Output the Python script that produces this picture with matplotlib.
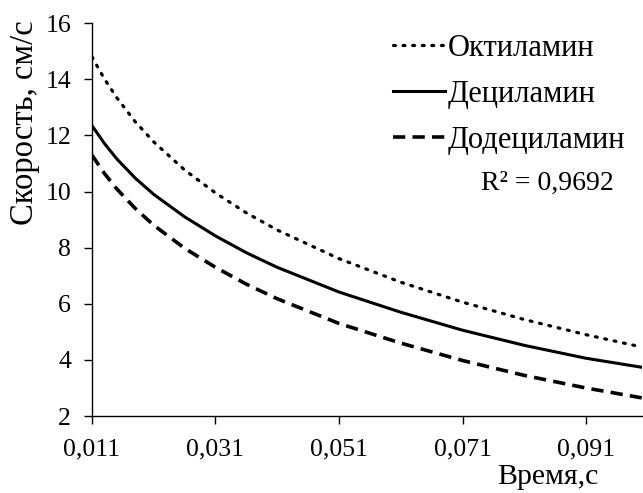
import matplotlib
matplotlib.use('Agg')
import matplotlib.pyplot as plt
from matplotlib.ticker import FixedLocator, FuncFormatter

plt.rcParams['font.family'] = ['Liberation Serif', 'DejaVu Serif']

# время, с
t = [0.011, 0.013, 0.015, 0.018, 0.021, 0.026, 0.031, 0.036, 0.041,
     0.051, 0.061, 0.071, 0.081, 0.091, 0.100]

# скорость, см/с
v_octyl = [14.8, 14.02, 13.35, 12.49, 11.77, 10.77, 9.95, 9.24, 8.63,
           7.61, 6.77, 6.06, 5.44, 4.9, 4.46]
v_decyl = [12.35, 11.72, 11.17, 10.48, 9.9, 9.1, 8.42, 7.82, 7.3,
           6.42, 5.7, 5.06, 4.52, 4.06, 3.74]
v_dodecyl = [11.3, 10.65, 10.1, 9.4, 8.8, 7.98, 7.3, 6.7, 6.18,
             5.3, 4.6, 3.98, 3.45, 3.0, 2.65]

names = ['Октиламин', 'Дециламин', 'Додециламин']
r2_text = 'R² = 0,9692'

x_ticks = [0.011, 0.031, 0.051, 0.071, 0.091]
y_ticks = [2, 4, 6, 8, 10, 12, 14, 16]

fig = plt.figure(figsize=(6.43, 4.93), dpi=100)
ax = fig.add_axes([0.143, 0.156, 0.855, 0.797])

ax.plot(t, v_octyl, color='black', lw=2.3, linestyle=(0, (0.6, 2.4)),
        dash_capstyle='round', label=names[0])
ax.plot(t, v_decyl, color='black', lw=2.2, label=names[1])
ax.plot(t, v_dodecyl, color='black', lw=2.6, linestyle=(0, (3.4, 2.0)),
        label=names[2])

ax.set_xlim(0.011, 0.1)
ax.set_ylim(2, 16)
ax.xaxis.set_major_locator(FixedLocator(x_ticks))
ax.yaxis.set_major_locator(FixedLocator(y_ticks))
ax.xaxis.set_major_formatter(FuncFormatter(lambda v, p: f'{v:.3f}'.replace('.', ',')))

for s in ['top', 'right']:
    ax.spines[s].set_visible(False)
for s in ['left', 'bottom']:
    ax.spines[s].set_linewidth(1.0)
ax.tick_params(direction='out', length=6, width=1.0, labelsize=18.5)
ax.tick_params(axis='x', pad=10)
ax.tick_params(axis='y', pad=9)

fig.text(25 / 643, 1 - 123 / 493, 'Скорость, см/с', fontsize=23.5,
         rotation=90, ha='center', va='center')
fig.text(598 / 643, 1 - 477 / 493, 'Время,с', fontsize=21.5,
         ha='right', va='center')

leg = ax.legend(loc='upper left', bbox_to_anchor=(393 / 643, 1 - 34 / 493),
                bbox_transform=fig.transFigure, frameon=False,
                fontsize=22, handlelength=1.7, handletextpad=0.08,
                labelspacing=0.55, borderpad=0, borderaxespad=0)
fig.text(547 / 643, 1 - 183 / 493, r2_text, fontsize=20,
         ha='center', va='center')

fig.savefig('out.png', dpi=100)
